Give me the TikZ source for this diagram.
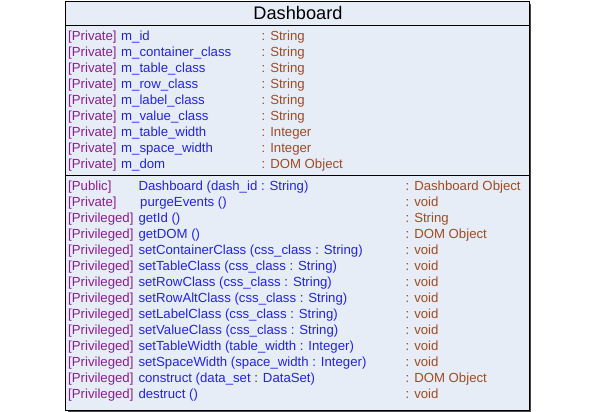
\documentclass[tikz,border=0pt]{standalone}
\usepackage{fontspec}
\setmainfont{Liberation Sans}
\definecolor{panel}{RGB}{230,237,247}
\definecolor{visc}{RGB}{140,30,140}
\definecolor{namec}{RGB}{35,35,225}
\definecolor{typec}{RGB}{160,75,35}
\definecolor{shadowc}{RGB}{70,70,70}
\tikzset{
  cell/.style={inner sep=0pt, anchor=base west, font=\fontsize{13.2}{16}\selectfont},
  vistext/.style={cell, text=visc},
  nametext/.style={cell, text=namec},
  typetext/.style={cell, text=typec},
  titletext/.style={inner sep=0pt, anchor=base, font=\fontsize{18.2}{22}\selectfont},
  frame/.style={draw=black, line width=1pt},
}
\begin{document}
\begin{tikzpicture}[x=1pt,y=-1pt]
\useasboundingbox (0,0) rectangle (600,412);
% class box with drop shadow
\fill[shadowc] (67.5,4) rectangle (531,412);
\filldraw[frame, fill=panel] (65,2) rectangle (529,410);
\draw[frame] (65,26) -- (529,26);
\draw[frame] (65,175) -- (529,175);
% class name
\node[titletext] (title) at (298,19.5) {Dashboard};
% attributes
\foreach \nm/\ty [count=\i] in {
  m\_id/String,
  m\_container\_class/String,
  m\_table\_class/String,
  m\_row\_class/String,
  m\_label\_class/String,
  m\_value\_class/String,
  m\_table\_width/Integer,
  m\_space\_width/Integer,
  m\_dom/DOM Object}{
  \pgfmathsetmacro{\yb}{40.5+16*(\i-1)}
  \node[vistext] (av\i) at (68,\yb) {[Private]};
  \node[nametext] (an\i) at (121,\yb) {\nm};
  \node[typetext] (at\i) at (261.5,\yb) {: \ty};
}
% operations
\foreach \vs/\nx/\sg/\rt [count=\i] in {
  {[Public]}/138.3/{Dashboard (dash\_id : String)}/{Dashboard Object},
  {[Private]}/140/{purgeEvents ()}/void,
  {[Privileged]}/138.3/{getId ()}/String,
  {[Privileged]}/138.3/{getDOM ()}/{DOM Object},
  {[Privileged]}/138.3/{setContainerClass (css\_class : String)}/void,
  {[Privileged]}/138.3/{setTableClass (css\_class : String)}/void,
  {[Privileged]}/138.3/{setRowClass (css\_class : String)}/void,
  {[Privileged]}/138.3/{setRowAltClass (css\_class : String)}/void,
  {[Privileged]}/138.3/{setLabelClass (css\_class : String)}/void,
  {[Privileged]}/138.3/{setValueClass (css\_class : String)}/void,
  {[Privileged]}/138.3/{setTableWidth (table\_width : Integer)}/void,
  {[Privileged]}/138.3/{setSpaceWidth (space\_width : Integer)}/void,
  {[Privileged]}/138.3/{construct (data\_set : DataSet)}/{DOM Object},
  {[Privileged]}/138.3/{destruct ()}/void}{
  \pgfmathsetmacro{\yb}{190.5+16*(\i-1)}
  \node[vistext] (ov\i) at (68,\yb) {\vs};
  \node[nametext] (on\i) at (\nx,\yb) {\sg};
  \node[typetext] (ot\i) at (405.5,\yb) {: \rt};
}
\end{tikzpicture}
\end{document}
